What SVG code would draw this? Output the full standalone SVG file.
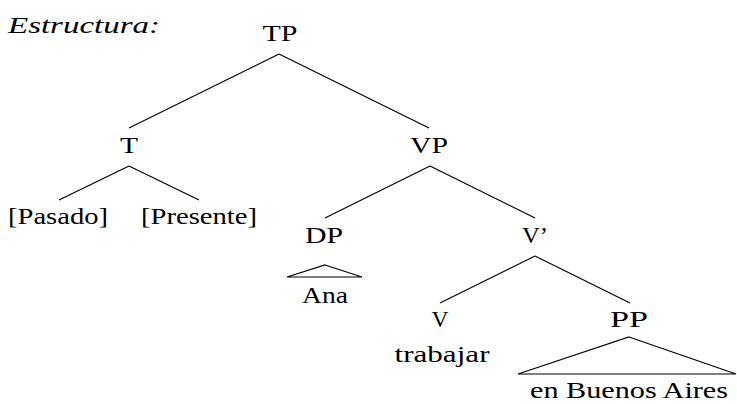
<svg xmlns="http://www.w3.org/2000/svg" width="737" height="404" viewBox="0 0 737 404">
<style>
text{font-family:"Liberation Serif","DejaVu Serif",serif;font-size:24px;fill:#000}
.c{text-anchor:middle}
.it{font-style:italic}
line,polygon{stroke:#000;stroke-width:1.2;fill:none}
</style>
<rect width="737" height="404" fill="#fff"/>
<g id="connectors">
<line x1="279" y1="54" x2="129" y2="128"/>
<line x1="279" y1="54" x2="429" y2="128"/>
<line x1="129" y1="166" x2="59" y2="200"/>
<line x1="129" y1="166" x2="199" y2="200"/>
<line x1="430" y1="166" x2="325" y2="218"/>
<line x1="430" y1="166" x2="535" y2="218"/>
<line x1="535" y1="256" x2="440" y2="303"/>
<line x1="535" y1="256" x2="630" y2="303"/>
<polygon points="325,265 362,277 287,277"/>
<polygon points="629,337 736,374 518,374"/>
</g>
<g id="label"><text class="it" x="8" y="33" textLength="152" lengthAdjust="spacingAndGlyphs">Estructura:</text></g>
<g id="TP"><text class="c" x="280" y="41" textLength="35" lengthAdjust="spacingAndGlyphs">TP</text></g>
<g id="T"><text class="c" x="129" y="153" textLength="18" lengthAdjust="spacingAndGlyphs">T</text></g>
<g id="VP"><text class="c" x="429" y="153" textLength="38" lengthAdjust="spacingAndGlyphs">VP</text></g>
<g id="Pasado"><text class="c" x="58" y="224" textLength="100" lengthAdjust="spacingAndGlyphs">[Pasado]</text></g>
<g id="Presente"><text class="c" x="199" y="224" textLength="116" lengthAdjust="spacingAndGlyphs">[Presente]</text></g>
<g id="DP"><text class="c" x="324" y="243" textLength="38" lengthAdjust="spacingAndGlyphs">DP</text></g>
<g id="Vbar"><text class="c" x="535" y="243" textLength="26" lengthAdjust="spacingAndGlyphs">V’</text></g>
<g id="Ana"><text class="c" x="325" y="303" textLength="46" lengthAdjust="spacingAndGlyphs">Ana</text></g>
<g id="V"><text class="c" x="440" y="327" textLength="17" lengthAdjust="spacingAndGlyphs">V</text></g>
<g id="PP"><text class="c" x="629" y="327" textLength="38" lengthAdjust="spacingAndGlyphs">PP</text></g>
<g id="trabajar"><text class="c" x="442" y="362" textLength="95" lengthAdjust="spacingAndGlyphs">trabajar</text></g>
<g id="enBuenosAires"><text class="c" x="629" y="398" textLength="198" lengthAdjust="spacingAndGlyphs">en Buenos Aires</text></g>
</svg>
